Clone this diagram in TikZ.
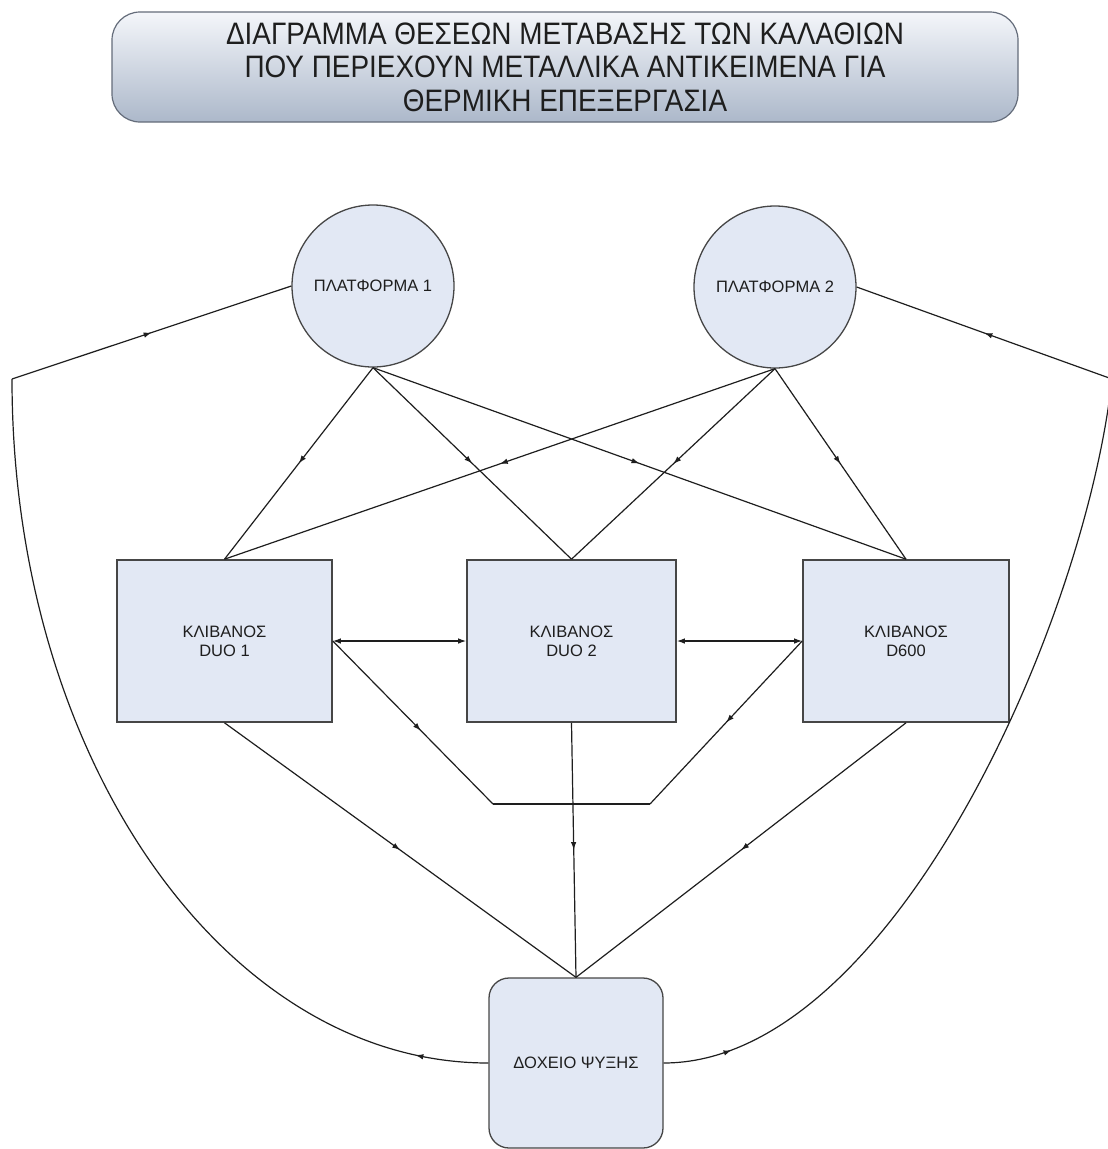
\documentclass[tikz,border=0pt]{standalone}
\usepackage{fontspec}
\setmainfont{Liberation Sans}
\newfontfamily\titlefont[FakeStretch=0.9]{Liberation Sans}
\usetikzlibrary{arrows.meta,decorations.markings}
\definecolor{boxfill}{RGB}{226,232,244}
\definecolor{ink}{RGB}{30,30,30}
\definecolor{border}{RGB}{70,70,70}
\definecolor{titletop}{RGB}{244,246,250}
\definecolor{titlebot}{RGB}{172,184,202}
\definecolor{titleborder}{RGB}{100,108,122}
\begin{document}
\begin{tikzpicture}[x=1pt,y=-1pt,
  every node/.style={text=ink},
  lbl/.style={font=\fontsize{16.5}{19}\selectfont, align=center},
  plat/.style={circle, draw=border, line width=1.3pt, fill=boxfill, minimum size=162pt, inner sep=0pt, lbl},
  kiln/.style={rectangle, draw=border, line width=1.6pt, fill=boxfill, inner sep=0pt, minimum height=162pt, lbl},
  tank/.style={rectangle, rounded corners=20pt, draw=border, line width=1.3pt, fill=boxfill, minimum width=174pt, minimum height=170pt, inner sep=0pt, lbl},
  conn/.style={draw=ink, line width=1.2pt},
  ktip/.tip={Latex[length=8pt,width=5.5pt]},
  midarrow/.style={postaction={decorate}, decoration={markings, mark=at position #1 with {\arrow{ktip}}}},
  midarrow/.default=0.5,
]
\useasboundingbox (0,0) rectangle (1108,1149);

% title
\node[draw=titleborder, line width=1.2pt, rounded corners=28pt, minimum width=906pt, minimum height=110pt,
      top color=titletop, bottom color=titlebot, align=center, inner sep=0pt,
      font=\titlefont\fontsize{31}{33.5}\selectfont] (title) at (565,67)
  {ΔΙΑΓΡΑΜΜΑ ΘΕΣΕΩΝ ΜΕΤΑΒΑΣΗΣ ΤΩΝ ΚΑΛΑΘΙΩΝ\\ΠΟΥ ΠΕΡΙΕΧΟΥΝ ΜΕΤΑΛΛΙΚΑ ΑΝΤΙΚΕΙΜΕΝΑ ΓΙΑ\\ΘΕΡΜΙΚΗ ΕΠΕΞΕΡΓΑΣΙΑ};

% nodes
\node[plat] (p1) at (373,286) {ΠΛΑΤΦΟΡΜΑ 1};
\node[plat] (p2) at (775,287) {ΠΛΑΤΦΟΡΜΑ 2};
\node[kiln, minimum width=215pt] (k1) at (224.5,641) {ΚΛΙΒΑΝΟΣ\\DUO 1};
\node[kiln, minimum width=209pt] (k2) at (571.5,641) {ΚΛΙΒΑΝΟΣ\\DUO 2};
\node[kiln, minimum width=206pt] (k3) at (906,641) {ΚΛΙΒΑΝΟΣ\\D600};
\node[tank] (t) at (576,1063) {ΔΟΧΕΙΟ ΨΥΞΗΣ};

% platforms to kilns
\draw[conn, midarrow] (p1.south) -- (k1.north);
\draw[conn, midarrow] (p1.south) -- (k2.north);
\draw[conn, midarrow] (p1.south) -- (k3.north);
\draw[conn, midarrow] (p2.south) -- (k1.north);
\draw[conn, midarrow] (p2.south) -- (k2.north);
\draw[conn, midarrow] (p2.south) -- (k3.north);

% kiln to kiln
\draw[conn, ktip-ktip] (k1.east) -- (k2.west);
\draw[conn, ktip-ktip] (k2.east) -- (k3.west);
\coordinate (bl) at (493,804);
\coordinate (br) at (650,804);
\draw[conn, midarrow=0.55] (k1.east) -- (bl);
\draw[conn] (bl) -- (br);
\draw[conn, midarrow] (k3.west) -- (br);

% kilns to tank
\draw[conn, midarrow] (k1.south) -- (t.north);
\draw[conn, midarrow] (k2.south) -- (t.north);
\draw[conn, midarrow] (k3.south) -- (t.north);

% tank back to platforms
\coordinate (cl) at (12,379);
\coordinate (cr) at (1112,379);
\draw[conn, midarrow=0.08] (t.west) .. controls (225,1063) and (12,758) .. (cl);
\draw[conn, midarrow] (cl) -- (p1.west);
\draw[conn, midarrow=0.08] (t.east) .. controls (890,1063) and (1085,625) .. (cr);
\draw[conn, midarrow] (cr) -- (p2.east);
\end{tikzpicture}
\end{document}
